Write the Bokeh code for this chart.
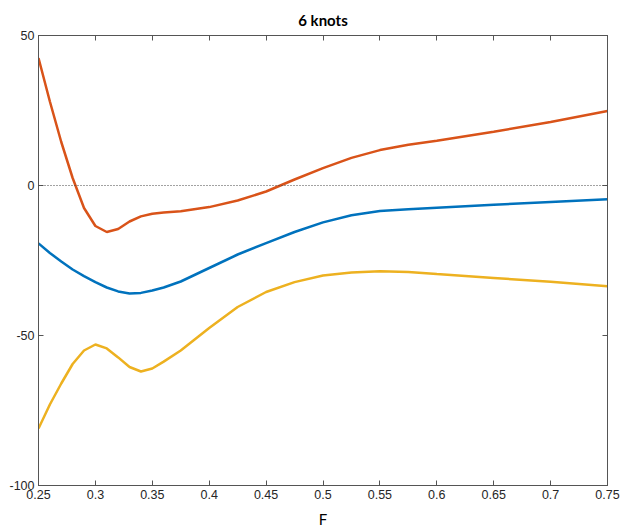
from bokeh.plotting import figure
from bokeh.models import LinearAxis, FixedTicker, Span, Range1d
from bokeh.embed import file_html
from bokeh.resources import INLINE

# ---- data ----
F = [0.25, 0.26, 0.27, 0.28, 0.29, 0.30, 0.31, 0.32, 0.33, 0.34, 0.35, 0.36,
     0.375, 0.40, 0.425, 0.45, 0.475, 0.50, 0.525, 0.55, 0.575, 0.60, 0.65, 0.70, 0.75]
orange = [42.5, 28.0, 14.5, 2.5, -7.5, -13.5, -15.5, -14.5, -12.0, -10.3, -9.4, -9.0,
          -8.6, -7.2, -5.0, -2.0, 2.0, 5.8, 9.2, 11.8, 13.6, 14.9, 17.9, 21.2, 24.8]
blue = [-19.3, -22.5, -25.3, -28.0, -30.2, -32.2, -34.0, -35.3, -36.0, -35.8, -35.0, -34.0,
        -32.0, -27.5, -23.0, -19.2, -15.5, -12.3, -9.9, -8.5, -7.9, -7.4, -6.4, -5.5, -4.6]
yellow = [-81.0, -73.0, -66.0, -59.5, -55.0, -53.0, -54.3, -57.3, -60.5, -62.0, -61.0, -58.7,
          -55.0, -47.5, -40.5, -35.5, -32.2, -30.0, -29.0, -28.6, -28.8, -29.5, -30.8, -32.1, -33.6]

xticks = [0.25, 0.3, 0.35, 0.4, 0.45, 0.5, 0.55, 0.6, 0.65, 0.7, 0.75]
xtick_labels = ["0.25", "0.3", "0.35", "0.4", "0.45", "0.5", "0.55", "0.6", "0.65", "0.7", "0.75"]
yticks = [-100, -50, 0, 50]
ytick_labels = ["-100", "-50", "0", "50"]
title_text = "6 knots"
xlabel_text = "F"

AX = "#555555"
TXT = "#262626"

p = figure(frame_width=569, frame_height=450, output_backend="svg", toolbar_location=None,
           x_range=Range1d(0.25, 0.75), y_range=Range1d(-100, 50),
           min_border_left=38, min_border_right=33, min_border_top=35, min_border_bottom=46)
p.title.text = title_text
p.title.align = "center"
p.title.vertical_align = "top"
p.title.text_font = "Lato"
p.title.text_font_style = "bold"
p.title.text_font_size = "15px"
p.title.text_color = "#000000"
p.title.standoff = 10

p.grid.visible = False
p.outline_line_color = AX
p.background_fill_color = "white"
p.border_fill_color = "white"

p.line(F, blue, line_color="#0072BD", line_width=2.5)
p.line(F, orange, line_color="#D95319", line_width=2.5)
p.line(F, yellow, line_color="#EDB120", line_width=2.5)

p.add_layout(Span(location=0, dimension="width", line_color="#444444",
                  line_dash="1 2", line_width=1))

xt = FixedTicker(ticks=xticks)
yt = FixedTicker(ticks=yticks)

for ax in p.xaxis:
    ax.ticker = xt
    ax.major_label_overrides = dict(zip(xticks, xtick_labels))
    ax.axis_label = xlabel_text
    ax.axis_label_text_font = "Lato"
    ax.axis_label_text_font_style = "normal"
    ax.axis_label_text_font_size = "15px"
    ax.axis_label_text_color = "#000000"
    ax.axis_label_standoff = 8
for ax in p.yaxis:
    ax.ticker = yt
    ax.major_label_overrides = dict(zip(yticks, ytick_labels))

for ax in list(p.xaxis) + list(p.yaxis):
    ax.axis_line_color = AX
    ax.major_tick_line_color = AX
    ax.major_tick_in = 5
    ax.major_tick_out = 0
    ax.minor_tick_line_color = None
    ax.major_label_text_font = "Liberation Sans"
    ax.major_label_text_font_size = "12.5px"
    ax.major_label_text_color = TXT
    ax.major_label_standoff = 4

top = LinearAxis(ticker=FixedTicker(ticks=xticks),
                 major_label_overrides={t: "" for t in xticks},
                 axis_line_color=AX, major_tick_line_color=AX, major_tick_in=5,
                 major_tick_out=0, minor_tick_line_color=None, major_label_standoff=0)
right = LinearAxis(ticker=FixedTicker(ticks=yticks),
                   major_label_overrides={t: "" for t in yticks},
                   axis_line_color=AX, major_tick_line_color=AX, major_tick_in=5,
                   major_tick_out=0, minor_tick_line_color=None, major_label_standoff=0)
p.add_layout(top, "above")
p.add_layout(right, "right")

open("out.html", "w").write(file_html(p, INLINE))
